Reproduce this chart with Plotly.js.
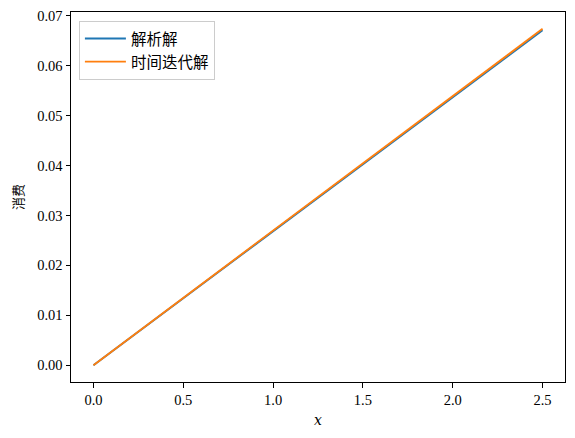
<!DOCTYPE html>
<html><head><meta charset="utf-8">
<script src="https://cdn.plot.ly/plotly-3.0.1.min.js"></script>
<style>body{margin:0;padding:0;background:#fff}#c{width:575px;height:438px}</style>
</head><body><div id="c"></div>
<script>
const xVals = [0, 0.5, 1.0, 1.5, 2.0, 2.5];
const analytic = [0, 0.01342, 0.02684, 0.04026, 0.05368, 0.0671];
const iterative = [0, 0.01348, 0.02696, 0.04044, 0.05392, 0.0674];
const seriesNames = ['解析解', '时间迭代解'];
const xLabel = '<i>x</i>';
const yLabel = '消费';

const tickFont = {family: '"Liberation Serif", "DejaVu Serif", serif', size: 14.5, color: '#000'};
const traces = [
  {x: xVals, y: analytic, name: seriesNames[0], mode: 'lines', line: {color: '#1f77b4', width: 1.9}},
  {x: xVals, y: iterative, name: seriesNames[1], mode: 'lines', line: {color: '#ff7f0e', width: 1.9}}
];
const layout = {
  width: 575, height: 438,
  margin: {l: 71, r: 10, t: 12, b: 56},
  paper_bgcolor: '#fff', plot_bgcolor: '#fff',
  showlegend: true,
  legend: {
    x: 0.016, y: 0.976, xanchor: 'left', yanchor: 'top',
    bgcolor: 'rgba(255,255,255,0.8)', bordercolor: '#cccccc', borderwidth: 1,
    font: {family: '"Noto Sans CJK SC", sans-serif', size: 15.5, color: '#000'},
    tracegroupgap: 0, itemwidth: 41
  },
  xaxis: {
    range: [-0.125, 2.625], dtick: 0.5, tick0: 0, tickformat: '.1f',
    showgrid: false, zeroline: false, showline: true, mirror: true, linecolor: '#000', linewidth: 1,
    ticks: 'outside', ticklen: 4.5, tickcolor: '#000', tickwidth: 1,
    tickfont: tickFont,
    title: {text: xLabel, font: {family: '"DejaVu Serif", serif', size: 14, color: '#000'}, standoff: 8}
  },
  yaxis: {
    range: [-0.00337, 0.07077], dtick: 0.01, tick0: 0, tickformat: '.2f',
    showgrid: false, zeroline: false, showline: true, mirror: true, linecolor: '#000', linewidth: 1,
    ticks: 'outside', ticklen: 4.5, tickcolor: '#000', tickwidth: 1,
    tickfont: tickFont,
    title: {text: yLabel, font: {family: '"Noto Sans CJK SC", sans-serif', size: 13, color: '#000'}, standoff: 10}
  }
};
Plotly.newPlot('c', traces, layout, {displayModeBar: false, staticPlot: true});
</script>
</body></html>
